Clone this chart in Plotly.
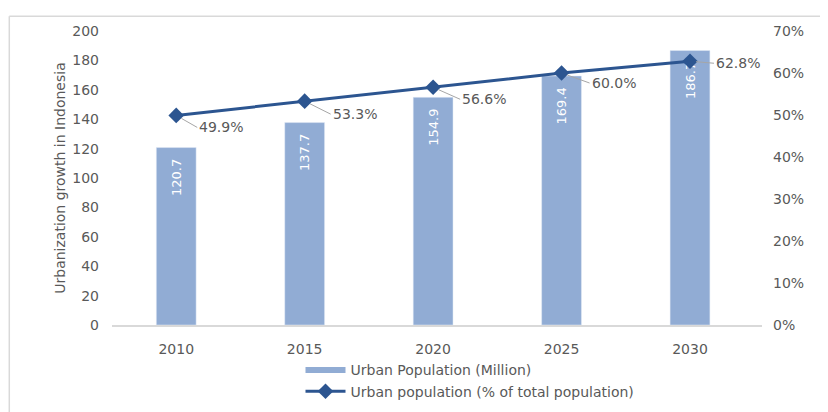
"""Urbanization growth in Indonesia: urban population bars + share line."""

import plotly.graph_objects as go

years = ["2010", "2015", "2020", "2025", "2030"]
urban_pop_million = [120.7, 137.7, 154.9, 169.4, 186.7]
urban_pop_share = [0.499, 0.533, 0.566, 0.600, 0.628]

# pixel offsets of the % labels from their markers (ax, ay)
label_offsets = [(21, 12), (26, 13), (27, 12), (28, 10), (24, 2)]

FONT = "DejaVu Sans, Verdana, sans-serif"
GREY = "#595959"
BAR = "#91ACD4"
LINE = "#2C5590"
PAD = "\u00a0\u00a0"  # keeps the bar values a little below the bar tops

fig = go.Figure()
fig.add_trace(go.Bar(
    x=years,
    y=urban_pop_million,
    name="Urban Population (Million)",
    marker_color=BAR,
    text=[f"{v:.1f}{PAD}" for v in urban_pop_million],
    textposition="inside",
    insidetextanchor="end",
    textangle=-90,
    textfont=dict(color="white", size=13, family=FONT),
    showlegend=False,
))
# legend proxy so the bar series shows a wide flat swatch like Excel
fig.add_trace(go.Scatter(
    x=[None], y=[None],
    name="Urban Population (Million)",
    mode="lines",
    line=dict(color=BAR, width=6),
))
fig.add_trace(go.Scatter(
    x=years,
    y=urban_pop_share,
    name="Urban population (% of total population)",
    yaxis="y2",
    mode="lines+markers",
    line=dict(color=LINE, width=3),
    marker=dict(symbol="diamond", size=12, color=LINE),
))

# on a category axis a numeric-looking string is read as an index,
# so the labels are anchored by category position
for i, (share, (ax, ay)) in enumerate(zip(urban_pop_share, label_offsets)):
    fig.add_annotation(
        x=i, y=share, xref="x", yref="y2",
        text=f"{share * 100:.1f}%",
        showarrow=True, arrowhead=0, arrowwidth=1, arrowcolor="#a6a6a6",
        ax=ax, ay=ay, standoff=6,
        xanchor="left", yanchor="middle",
        font=dict(size=14, color=GREY, family=FONT),
    )

# outer chart frame (top and left edges visible)
fig.add_shape(type="line", xref="paper", yref="paper",
              x0=-0.158, x1=1.2, y0=1.05, y1=1.05,
              line=dict(color="#d9d9d9", width=1.5))
fig.add_shape(type="line", xref="paper", yref="paper",
              x0=-0.158, x1=-0.158, y0=1.05, y1=-0.4,
              line=dict(color="#d9d9d9", width=1.5))

fig.update_layout(
    width=828,
    height=412,
    margin=dict(l=104, r=74, t=23, b=95),
    plot_bgcolor="white",
    paper_bgcolor="white",
    font=dict(family=FONT, color=GREY, size=14),
    bargap=0.69,
    showlegend=True,
    legend=dict(
        orientation="v",
        x=0.29, xanchor="left",
        y=-0.1, yanchor="top",
        font=dict(size=14, color=GREY),
        tracegroupgap=0,
        itemwidth=40,
    ),
    xaxis=dict(
        type="category",
        showline=True, linecolor="#d9d9d9", linewidth=1.5,
        showgrid=False, ticks="",
        tickfont=dict(size=14, color=GREY),
        ticklabelstandoff=10,
    ),
    yaxis=dict(
        range=[0, 200], dtick=20,
        showgrid=False, zeroline=False, showline=False,
        tickfont=dict(size=14, color=GREY),
        ticklabelstandoff=12,
        title=dict(text="Urbanization growth in Indonesia",
                   font=dict(size=14, color=GREY), standoff=3),
    ),
    yaxis2=dict(
        range=[0, 0.7], dtick=0.1, tickformat=".0%",
        overlaying="y", side="right",
        showgrid=False, zeroline=False, showline=False,
        tickfont=dict(size=14, color=GREY),
        ticklabelstandoff=10,
    ),
)

fig.write_html("out.html")
